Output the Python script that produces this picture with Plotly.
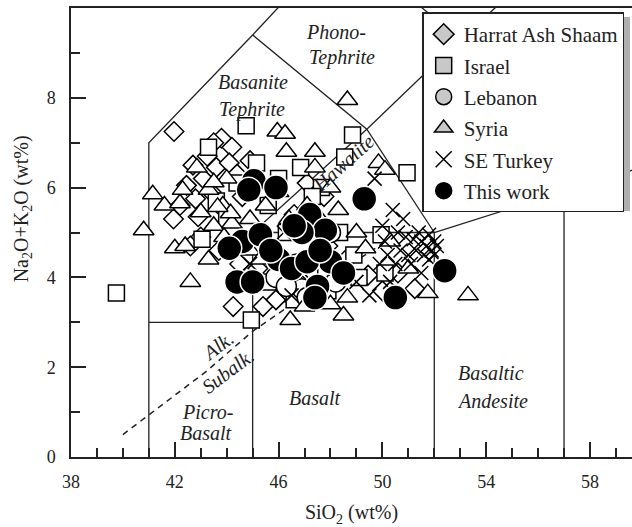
import plotly.graph_objects as go

# ---------------- data ----------------
harrat_x = [41.97, 43.8, 44.2, 43.25, 43.6, 44.1, 43.1, 42.45, 42.9, 41.95, 42.2, 42.8, 43.4, 44.4, 44.6,
            43.9, 43.0, 43.7, 44.5, 44.25, 45.4, 45.9, 46.3, 47.1, 47.75, 46.6, 47.9, 48.6, 49.45, 50.0,
            51.25, 50.6, 48.2, 45.2, 42.6, 44.9, 43.5, 42.7]
harrat_y = [7.25, 7.1, 6.9, 6.7, 6.45, 6.55, 6.2, 6.05, 5.35, 5.3, 5.6, 5.75, 5.9, 6.3, 5.8,
            5.5, 4.9, 4.6, 4.3, 3.35, 3.35, 3.5, 3.7, 6.1, 5.8, 5.4, 4.7, 4.4, 4.05, 3.7,
            3.75, 4.1, 3.9, 4.2, 4.7, 6.6, 7.0, 6.5]

israel_x = [39.75, 44.75, 43.3, 45.15, 46.85, 47.65, 48.85, 48.55, 50.95, 49.95, 48.35, 50.1, 44.95,
            43.05, 44.0, 45.6, 46.3, 47.2, 45.6, 48.9, 43.6, 44.4, 46.0, 47.3, 49.1, 47.9, 46.6]
israel_y = [3.65, 7.38, 6.9, 6.55, 6.45, 6.0, 7.17, 6.68, 6.33, 4.95, 5.0, 4.1, 3.05,
            4.85, 5.3, 5.6, 5.0, 4.0, 3.9, 4.5, 5.7, 6.1, 6.2, 5.8, 4.0, 3.7, 3.5]

lebanon_x = [46.9, 47.1, 46.7, 48.2, 45.9, 47.5, 46.3, 48.0]
lebanon_y = [3.75, 3.55, 4.3, 3.9, 4.0, 4.9, 3.8, 5.0]

syria_x = [40.8, 41.15, 41.6, 42.2, 42.85, 43.3, 43.85, 43.5, 42.0, 42.4, 42.6, 43.3, 44.2, 43.9,
           45.95, 46.25, 46.3, 47.4, 47.4, 48.65, 44.9, 45.5, 46.0, 46.4, 47.1, 47.6, 48.3, 48.0,
           49.35, 48.65, 48.5, 51.75, 53.3, 46.45, 47.0, 48.0, 44.9, 45.3, 49.85, 50.1, 49.0, 50.3,
           51.0, 44.0, 43.0, 45.3, 43.5, 44.15, 43.65, 42.3]
syria_y = [5.05, 5.85, 5.6, 5.65, 6.45, 5.95, 5.6, 5.15, 4.65, 4.7, 3.9, 4.4, 5.2, 4.9,
           7.25, 7.2, 6.8, 6.8, 6.45, 7.95, 5.3, 5.6, 5.9, 5.3, 5.6, 5.3, 5.5, 6.0,
           4.65, 3.55, 3.15, 3.65, 3.6, 3.05, 3.35, 3.4, 4.6, 4.4, 6.55, 6.4, 5.0, 4.8,
           4.2, 6.2, 5.45, 5.0, 6.12, 5.43, 5.57, 5.95]

turkey_x = [50.4, 50.0, 50.6, 50.9, 51.2, 51.5, 51.7, 51.9, 51.3, 51.0, 50.7, 51.6, 51.8, 52.0, 51.1,
            50.5, 50.2, 49.9, 49.5, 50.3, 51.5, 52.0, 51.4, 50.8, 49.0, 48.2, 47.3, 46.8, 46.5, 45.8,
            46.2, 44.9, 50.1, 51.8, 52.1, 49.7]
turkey_y = [5.5, 5.15, 5.0, 4.9, 4.85, 4.8, 4.7, 4.6, 4.6, 4.5, 4.6, 4.5, 4.4, 4.5, 4.3,
            4.3, 4.5, 4.3, 3.6, 3.9, 4.1, 4.8, 5.0, 5.3, 3.9, 4.2, 3.9, 4.1, 3.6, 4.4,
            5.0, 4.3, 4.8, 4.95, 4.7, 6.2]

work_x = [45.05, 44.85, 45.9, 44.6, 45.3, 44.1, 46.0, 46.5, 44.4, 45.0, 47.2, 47.8, 46.9, 47.5, 47.4,
          48.0, 48.5, 47.1, 49.3, 50.5, 52.4, 46.6, 47.6, 45.7]
work_y = [6.15, 5.95, 6.0, 4.8, 4.95, 4.65, 4.4, 4.2, 3.9, 3.9, 5.4, 5.05, 5.0, 3.8, 3.55,
          4.35, 4.1, 4.35, 5.75, 3.55, 4.15, 5.15, 4.6, 4.6]

# TAS field boundaries (Le Bas et al., 1986), segments separated by None
field_x = [41, 41, 45, 48.4, None, 41, 45, None, 45, 45, 52, 57, 63, None, 52, 52, None, 57, 57, None,
           45, 49.4, 52, None, 45, 49.4, 53, 57, None, 48.4, 53, 57.6, None, 63, 63]
field_y = [0, 7, 9.4, 11.5, None, 3, 3, None, 0, 5, 5, 5.9, 7, None, 0, 5, None, 0, 5.9, None,
           9.4, 7.3, 5, None, 5, 7.3, 9.3, 5.9, None, 11.5, 9.3, 11.7, None, 0, 7]

# Alkaline / subalkaline divide (Irvine & Baragar, 1971)
alk_x = [40.0, 43.2, 45.0, 48.0, 50.0]
alk_y = [0.5, 1.9, 2.8, 4.0, 4.75]

# field labels: (text, x, y, angle)
labels = [
    ("Phono-", 48.2, 9.47, 0), ("Tephrite", 48.45, 8.9, 0),
    ("Basanite", 45.02, 8.35, 0), ("Tephrite", 44.98, 7.75, 0),
    ("Hawaiite", 48.5, 6.55, -42),
    ("Alk.", 43.65, 2.47, -37), ("Subalk.", 44.05, 1.92, -37),
    ("Picro-", 43.25, 1.0, 0), ("Basalt", 43.22, 0.53, 0),
    ("Basalt", 47.4, 1.31, 0),
    ("Basaltic", 54.2, 1.87, 0), ("Andesite", 54.25, 1.25, 0),
]

FONT = "'Liberation Serif', 'Times New Roman', Times, serif"

fig = go.Figure()
fig.add_trace(go.Scatter(x=field_x, y=field_y, mode="lines", line=dict(color="#222", width=1.3),
                         showlegend=False, hoverinfo="skip"))
fig.add_trace(go.Scatter(x=alk_x, y=alk_y, mode="lines", line=dict(color="#222", width=1.5, dash="6px,5px"),
                         showlegend=False, hoverinfo="skip"))

mline = dict(color="black", width=1.5)
fig.add_trace(go.Scatter(x=harrat_x, y=harrat_y, mode="markers", showlegend=False,
                         marker=dict(symbol="diamond", size=15, color="white", line=mline)))
fig.add_trace(go.Scatter(x=israel_x, y=israel_y, mode="markers", showlegend=False,
                         marker=dict(symbol="square", size=16, color="white", line=mline)))
fig.add_trace(go.Scatter(x=lebanon_x, y=lebanon_y, mode="markers", showlegend=False,
                         marker=dict(symbol="circle", size=20, color="white", line=mline)))
fig.add_trace(go.Scatter(x=syria_x, y=syria_y, mode="markers", showlegend=False,
                         marker=dict(symbol="triangle-up", size=18, color="white", line=mline)))
fig.add_trace(go.Scatter(x=turkey_x, y=turkey_y, mode="markers", showlegend=False,
                         marker=dict(symbol="x-thin", size=14, color="black", line=dict(color="black", width=1.5))))
fig.add_trace(go.Scatter(x=work_x, y=work_y, mode="markers", showlegend=False,
                         marker=dict(symbol="circle", size=25, color="black", line=dict(color="white", width=1.5))))

# legend entries
gray = "#c8c8c8"
leg = [("Harrat Ash Shaam", "diamond", gray, "black"),
       ("Israel", "square", gray, "black"),
       ("Lebanon", "circle", gray, "black"),
       ("Syria", "triangle-up", gray, "black"),
       ("SE Turkey", "x-thin", "black", "black"),
       ("This work", "circle", "black", "black")]
for i, (name, sym, fc, lc) in enumerate(leg):
    fig.add_trace(go.Scatter(x=[None], y=[None], mode="markers", name=name, legendgroup="g%d" % i,
                             marker=dict(symbol=sym, size=16, color=fc, line=dict(color=lc, width=1.5))))

for t, x, y, a in labels:
    fig.add_annotation(x=x, y=y, xref="x", yref="y", text="<i>" + t + "</i>", showarrow=False,
                       textangle=a, font=dict(family=FONT, size=20, color="#222"))

fig.add_annotation(x=-0.087, y=0.552, xref="paper", yref="paper", xanchor="center", yanchor="middle",
                   text="Na<sub>2</sub>O+K<sub>2</sub>O (wt%)", textangle=-90, showarrow=False,
                   font=dict(family=FONT, size=20, color="#222"))

# soft shadow behind the legend box
fig.add_shape(type="rect", xref="paper", yref="paper", layer="above",
              x0=(426 - 71) / 561, x1=(630 - 71) / 561, y0=(457 - 211) / 449, y1=(457 - 17) / 449,
              fillcolor="#b0b0b0", line=dict(width=0))

fig.update_layout(
    width=632, height=527,
    margin=dict(l=71, r=0, t=8, b=70),
    paper_bgcolor="white", plot_bgcolor="white",
    font=dict(family=FONT, size=18, color="#222"),
    legend=dict(x=0.626, y=0.99, xanchor="left", yanchor="top", bgcolor="white",
                bordercolor="#222", borderwidth=1.5, font=dict(family=FONT, size=21, color="#222"),
                itemwidth=30, tracegroupgap=1),
    xaxis=dict(range=[38, 59.62], showline=True, linecolor="#222", linewidth=1.5, mirror=True,
               ticks="inside", tick0=38, dtick=4, ticklen=15, tickwidth=1.5, tickcolor="#222",
               ticklabelstandoff=8,
               minor=dict(dtick=1, ticklen=9, tickwidth=1.5, ticks="inside", tickcolor="#222"),
               showgrid=False, zeroline=False,
               title=dict(text="SiO<sub>2</sub> (wt%)", font=dict(family=FONT, size=20), standoff=14)),
    yaxis=dict(range=[0, 10], showline=True, linecolor="#222", linewidth=1.5, mirror=False,
               ticks="inside", tick0=0, dtick=2, ticklen=15, tickwidth=1.5, tickcolor="#222",
               ticklabelstandoff=10,
               minor=dict(dtick=1, ticklen=9, tickwidth=1.5, ticks="inside", tickcolor="#222"),
               showgrid=False, zeroline=False),
)

fig.write_html("out.html")
